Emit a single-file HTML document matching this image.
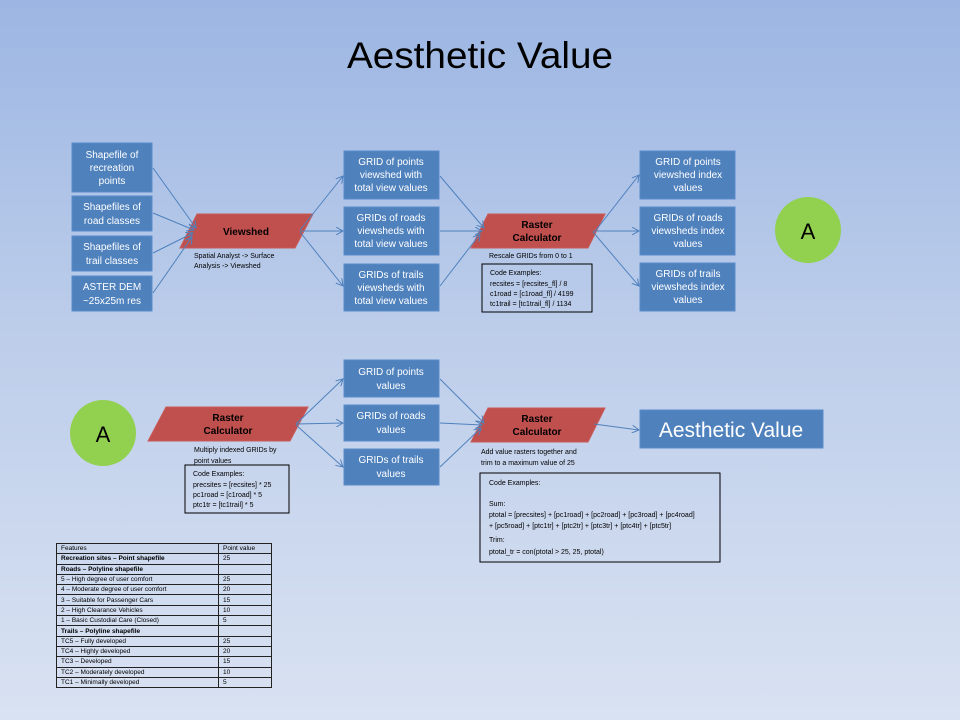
<!DOCTYPE html>
<html><head><meta charset="utf-8"><style>
html,body{margin:0;padding:0}
body{width:960px;height:720px;overflow:hidden;background:linear-gradient(#9cb6e3,#bccdea 45%,#d9e2f2);font-family:"Liberation Sans",sans-serif}
svg{position:absolute;left:0;top:0}
.b{fill:#4f81bd;stroke:#5a8ccc;stroke-width:1}
.bt{fill:#fff;font-size:10px;text-anchor:middle}
.r{fill:#c0504d;stroke:#c85a57}
.rt{fill:#000;font-size:10px;font-weight:bold;text-anchor:middle}
.s{font-size:7px;fill:#000}
.c{fill:none;stroke:#000;stroke-width:1}
.l{stroke:#4f81bd;stroke-width:1;fill:none;marker-end:url(#ah)}
table{position:absolute;left:56px;top:543px;width:216px;border-collapse:collapse;font-size:6.5px}
td{border:1px solid #222;height:9.3px;padding:0 4px;line-height:9px}
</style></head><body>
<svg width="960" height="720">
<defs><marker id="ah" markerWidth="8" markerHeight="8" refX="7" refY="4" orient="auto" markerUnits="userSpaceOnUse"><path d="M0,0 L7,4 L0,8" fill="none" stroke="#4f81bd" stroke-width="1"/></marker></defs>
<text x="480" y="68" font-size="37" text-anchor="middle" fill="#000" textLength="266" lengthAdjust="spacingAndGlyphs">Aesthetic Value</text>
<rect class="b" x="72" y="143" width="80" height="49"/>
<text class="bt" x="112" y="158">Shapefile of</text><text class="bt" x="112" y="171">recreation</text><text class="bt" x="112" y="184">points</text>
<rect class="b" x="72" y="196" width="80" height="35"/>
<text class="bt" x="112" y="210">Shapefiles of</text><text class="bt" x="112" y="224">road classes</text>
<rect class="b" x="72" y="236" width="80" height="35"/>
<text class="bt" x="112" y="250">Shapefiles of</text><text class="bt" x="112" y="264">trail classes</text>
<rect class="b" x="72" y="276" width="80" height="35"/>
<text class="bt" x="112" y="290">ASTER DEM</text><text class="bt" x="112" y="304">~25x25m res</text>
<polygon class="r" points="197,214 313,214 295,248 180,248"/>
<text class="rt" x="246" y="235">Viewshed</text>
<text class="s" x="194" y="258">Spatial Analyst -&gt; Surface</text><text class="s" x="194" y="268">Analysis -&gt; Viewshed</text>
<line class="l" x1="153" y1="168" x2="196" y2="228"/>
<line class="l" x1="153" y1="213" x2="194" y2="230"/>
<line class="l" x1="153" y1="253" x2="193" y2="233"/>
<line class="l" x1="153" y1="293" x2="192" y2="237"/>
<rect class="b" x="344" y="151" width="95" height="48"/>
<text class="bt" x="391" y="165">GRID of points</text><text class="bt" x="391" y="178">viewshed with</text><text class="bt" x="391" y="191">total view values</text>
<rect class="b" x="344" y="207" width="95" height="48"/>
<text class="bt" x="391" y="221">GRIDs of roads</text><text class="bt" x="391" y="234">viewsheds with</text><text class="bt" x="391" y="247">total view values</text>
<rect class="b" x="344" y="264" width="95" height="47"/>
<text class="bt" x="391" y="278">GRIDs of trails</text><text class="bt" x="391" y="291">viewsheds with</text><text class="bt" x="391" y="304">total view values</text>
<line class="l" x1="300" y1="230" x2="343" y2="176"/>
<line class="l" x1="300" y1="231" x2="343" y2="231"/>
<line class="l" x1="300" y1="232" x2="343" y2="286"/>
<polygon class="r" points="488,214 605,214 588,248 471,248"/>
<text class="rt" x="537" y="228">Raster</text><text class="rt" x="537" y="241">Calculator</text>
<text class="s" x="489" y="258">Rescale GRIDs from 0 to 1</text>
<rect class="c" x="482" y="264" width="110" height="48"/>
<text class="s" x="490" y="275">Code Examples:</text>
<text class="s" x="490" y="286">recsites = [recsites_fl] / 8</text>
<text class="s" x="490" y="296">c1road = [c1road_fl] / 4199</text>
<text class="s" x="490" y="306">tc1trail = [tc1trail_fl] / 1134</text>
<line class="l" x1="440" y1="176" x2="484" y2="228"/>
<line class="l" x1="440" y1="231" x2="482" y2="231"/>
<line class="l" x1="440" y1="286" x2="480" y2="234"/>
<rect class="b" x="640" y="151" width="95" height="48"/>
<text class="bt" x="688" y="165">GRID of points</text><text class="bt" x="688" y="178">viewshed index</text><text class="bt" x="688" y="191">values</text>
<rect class="b" x="640" y="207" width="95" height="48"/>
<text class="bt" x="688" y="221">GRIDs of roads</text><text class="bt" x="688" y="234">viewsheds index</text><text class="bt" x="688" y="247">values</text>
<rect class="b" x="640" y="263" width="95" height="48"/>
<text class="bt" x="688" y="277">GRIDs of trails</text><text class="bt" x="688" y="290">viewsheds index</text><text class="bt" x="688" y="303">values</text>
<line class="l" x1="596" y1="230" x2="639" y2="175"/>
<line class="l" x1="593" y1="231" x2="639" y2="231"/>
<line class="l" x1="593" y1="232" x2="639" y2="286"/>
<circle cx="808" cy="230" r="33" fill="#92d050"/>
<text x="808" y="239" font-size="22" text-anchor="middle">A</text>
<circle cx="103" cy="433" r="33" fill="#92d050"/>
<text x="103" y="442" font-size="22" text-anchor="middle">A</text>
<polygon class="r" points="166,407 308,407 290,441 148,441"/>
<text class="rt" x="228" y="421">Raster</text><text class="rt" x="228" y="434">Calculator</text>
<text class="s" x="194" y="452">Multiply indexed GRIDs by</text><text class="s" x="194" y="463">point values</text>
<rect class="c" x="185" y="465" width="104" height="48"/>
<text class="s" x="193" y="476">Code Examples:</text>
<text class="s" x="193" y="487">precsites = [recsites] * 25</text>
<text class="s" x="193" y="497">pc1road = [c1road] * 5</text>
<text class="s" x="193" y="507">ptc1tr = [tc1trail] * 5</text>
<rect class="b" x="344" y="360" width="95" height="37"/>
<text class="bt" x="391" y="375">GRID of points</text><text class="bt" x="391" y="389">values</text>
<rect class="b" x="344" y="405" width="95" height="36"/>
<text class="bt" x="391" y="419">GRIDs of roads</text><text class="bt" x="391" y="433">values</text>
<rect class="b" x="344" y="449" width="95" height="36"/>
<text class="bt" x="391" y="463">GRIDs of trails</text><text class="bt" x="391" y="477">values</text>
<line class="l" x1="296" y1="424" x2="343" y2="379"/>
<line class="l" x1="296" y1="424" x2="343" y2="423"/>
<line class="l" x1="296" y1="425" x2="343" y2="467"/>
<polygon class="r" points="488,408 605,408 588,442 471,442"/>
<text class="rt" x="537" y="422">Raster</text><text class="rt" x="537" y="435">Calculator</text>
<line class="l" x1="440" y1="379" x2="484" y2="423"/>
<line class="l" x1="440" y1="423" x2="482" y2="425"/>
<line class="l" x1="440" y1="467" x2="481" y2="428"/>
<text class="s" x="481" y="454">Add value rasters together and</text><text class="s" x="481" y="465">trim to a maximum value of 25</text>
<rect class="c" x="480" y="473" width="240" height="89"/>
<text class="s" x="489" y="485">Code Examples:</text>
<text class="s" x="489" y="506">Sum:</text>
<text class="s" x="489" y="517">ptotal = [precsites] + [pc1road] + [pc2road] + [pc3road] + [pc4road]</text>
<text class="s" x="489" y="528">+ [pc5road] + [ptc1tr] +  [ptc2tr] + [ptc3tr] + [ptc4tr] + [ptc5tr]</text>
<text class="s" x="489" y="542">Trim:</text>
<text class="s" x="489" y="554">ptotal_tr = con(ptotal &gt; 25, 25, ptotal)</text>
<line class="l" x1="594" y1="424" x2="639" y2="430"/>
<rect class="b" x="640" y="410" width="183" height="38"/>
<text x="731" y="437" font-size="21" fill="#fff" text-anchor="middle">Aesthetic Value</text>
</svg>
<table>
<tr style="background:#c9d5ea"><td>Features</td><td style="width:44px">Point value</td></tr>
<tr><td><b>Recreation sites – Point shapefile</b></td><td>25</td></tr>
<tr><td><b>Roads – Polyline shapefile</b></td><td></td></tr>
<tr><td>5 – High degree of user comfort</td><td>25</td></tr>
<tr><td>4 – Moderate degree of user comfort</td><td>20</td></tr>
<tr><td>3 – Suitable for Passenger Cars</td><td>15</td></tr>
<tr><td>2 – High Clearance Vehicles</td><td>10</td></tr>
<tr><td>1 – Basic Custodial Care (Closed)</td><td>5</td></tr>
<tr><td><b>Trails – Polyline shapefile</b></td><td></td></tr>
<tr><td>TC5 – Fully developed</td><td>25</td></tr>
<tr><td>TC4 – Highly developed</td><td>20</td></tr>
<tr><td>TC3 – Developed</td><td>15</td></tr>
<tr><td>TC2 – Moderately developed</td><td>10</td></tr>
<tr><td>TC1 – Minimally developed</td><td>5</td></tr>
</table>
</body></html>
